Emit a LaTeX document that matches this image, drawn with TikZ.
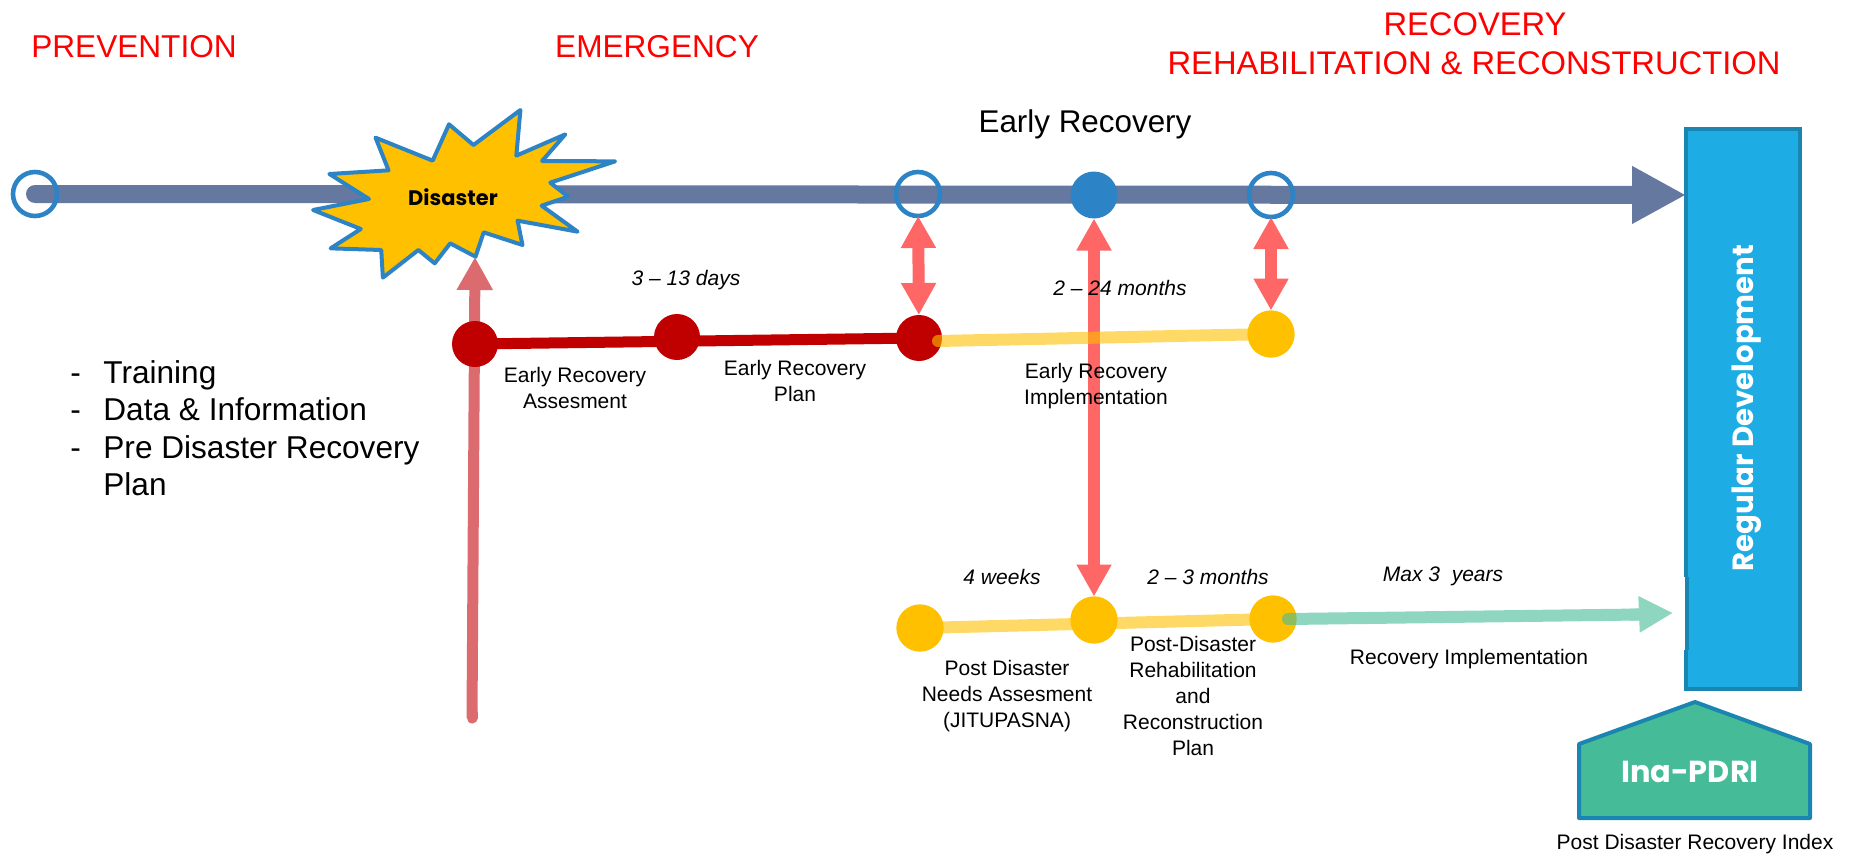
\documentclass[tikz,border=0pt]{standalone}
\usepackage{fontspec}
\setmainfont{Liberation Sans}
\newfontfamily\gothic{Poppins}
\usetikzlibrary{arrows.meta}
\definecolor{mainline}{HTML}{6478A0}
\definecolor{ringblue}{HTML}{2C84C6}
\definecolor{sunny}{HTML}{FFC000}
\definecolor{darkred}{HTML}{C00000}
\definecolor{pinkarrow}{HTML}{FF6666}
\definecolor{dustyred}{HTML}{DB6B6E}
\definecolor{boxfill}{HTML}{1EACE4}
\definecolor{boxline}{HTML}{1A85B0}
\definecolor{housefill}{HTML}{45BB98}
\tikzset{
  ringnode/.style={circle,draw=ringblue,line width=2.3pt,inner sep=0pt,outer sep=0pt,minimum size=22pt},
  solidblue/.style={circle,fill=ringblue,inner sep=0pt,outer sep=0pt,minimum size=23.5pt},
  rednode/.style={circle,fill=darkred,inner sep=0pt,outer sep=0pt,minimum size=23pt},
  yellownode/.style={circle,fill=sunny,inner sep=0pt,outer sep=0pt,minimum size=23.5pt},
  heading/.style={text=red,font=\fontsize{15.8}{19}\selectfont,align=center,inner sep=0pt},
  headingwide/.style={text=red,font=\fontsize{16.35}{19}\selectfont,align=center,inner sep=0pt},
  small/.style={font=\fontsize{10.5}{13}\selectfont,align=center,inner sep=0pt},
  smallit/.style={font=\fontsize{10.5}{13}\selectfont\itshape,align=center,inner sep=0pt},
  listtext/.style={font=\fontsize{15.8}{18.7}\selectfont,align=left,anchor=base west,inner sep=0pt},
  pinkdouble/.style={pinkarrow,line width=6pt,{Triangle[width=16.5pt,length=16pt]}-{Triangle[width=16.5pt,length=16pt]}},
}
\begin{document}
\begin{tikzpicture}[x=0.5pt,y=-0.5pt]
\useasboundingbox (0,0) rectangle (1856,856);
% boxes
\node[draw=boxline,fill=boxfill,line width=2pt,inner sep=0pt,outer sep=0pt,minimum width=57pt,minimum height=280pt] (devbox) at (1743,409) {};
\fill[white] (1683,577) rectangle (1685,650);
\fill[boxline] (1685,577) rectangle (1689,650);
\node[rotate=90,text=white,inner sep=0pt,font=\gothic\bfseries\fontsize{14.6}{17}\selectfont] (devtext) at (1747,408) {Regular Development};
% coordinates
\coordinate (mainstart) at (35,194);
\coordinate (mainend) at (1686,195);
\coordinate (burstbottom) at (475,257);
\coordinate (leftfoot) at (472,718);
\coordinate (greentip) at (1673,613);
% main line
\draw[mainline,line width=9pt,-{Triangle[width=27pt,length=27pt]}] (mainstart) -- (mainend);
\draw[mainline,line width=9pt,line cap=round] (mainstart) -- ++(5,0);
% left arrow
\draw[dustyred,line width=5.5pt,-{Triangle[width=17pt,length=16.5pt]}] (leftfoot) -- (burstbottom);
\draw[dustyred,line width=5.5pt,line cap=round] (leftfoot) -- ++(0,-5);
% burst
\begin{scope}[x=0.20408pt,y=-0.16667pt,yshift=-45pt]
\draw[draw=ringblue,fill=sunny,line width=2pt,line join=round]
 (1275,60)--(1265,197)--(1385,133)--(1328,213)--(1507,214)--(1348,278)--(1392,320)--(1327,347)--(1415,425)--(1268,392)--(1280,465)--(1185,427)--(1165,500)--(1103,460)--(1065,520)--(1025,480)--(938,563)--(934,480)--(810,475)--(884,417)--(767,360)--(904,327)--(807,252)--(952,241)--(920,143)--(1060,212)--(1100,103)--(1160,165)--cycle;
\end{scope}
\node[inner sep=0pt,font=\gothic\bfseries\fontsize{10.5}{12}\selectfont] (disaster) at (453,197) {Disaster};
% nodes
\node[rednode] (r1) at (475,344) {};
\node[ringnode] (ring0) at (35,194) {};
\node[ringnode] (ring1) at (918,194) {};
\node[solidblue] (blue) at (1094,195) {};
\node[ringnode] (ring3) at (1271,195) {};
\node[rednode] (r2) at (677,337) {};
\node[rednode] (r3) at (919,338) {};
\node[yellownode] (y1) at (1271,334) {};
\node[yellownode] (b1) at (920,628) {};
\node[yellownode] (b2) at (1094,620) {};
\node[yellownode] (b3) at (1273,619) {};
% connectors
\draw[darkred,line width=5.5pt] (r1.center) -- (r3.center);
\draw[pinkdouble] (ring1) -- (r3);
\draw[pinkdouble] (ring3) -- (y1);
\draw[pinkdouble] (blue) -- (b2);
\draw[sunny,opacity=.6,line width=6pt,line cap=round] (r3.center) ++(19,3) -- (y1.center);
\draw[sunny,opacity=.6,line width=6pt] (b1.center) -- (b3.center);
\node[yellownode] at (b1) {};
\node[yellownode] at (b2) {};
\node[yellownode] at (b3) {};
\node[yellownode] at (y1) {};
\begin{scope}[transparency group,opacity=.6]
\draw[housefill,line width=6pt,line cap=round] (b3.center) ++(15,0) -- (1640,614.5);
\draw[housefill,line width=6pt,-{Triangle[width=17pt,length=17pt]}] (1630,614.7) -- (greentip);
\end{scope}
% house
\draw[draw=boxline,fill=housefill,line width=2pt,line join=round] (1579,818) -- (1579,744) -- (1695,702) -- (1810,744) -- (1810,818) -- cycle;
\node[text=white,inner sep=0pt,font=\gothic\bfseries\fontsize{15.2}{19}\selectfont] (ina) at (1690,772) {Ina-PDRI};
\node[small] (pdri) at (1695,844) {Post Disaster Recovery Index};
% headings
\node[heading] (h1) at (134,46.5) {PREVENTION};
\node[heading] (h2) at (657,46.5) {EMERGENCY};
\node[headingwide] (h3) at (1475,24) {RECOVERY};
\node[headingwide] (h4) at (1474,63) {REHABILITATION \& RECONSTRUCTION};
\node[inner sep=0pt,font=\fontsize{15.7}{19}\selectfont] (er) at (1085,124) {Early Recovery};
% labels
\node[smallit] (t1) at (686,280) {3 – 13 days};
\node[small] (t2) at (575,388) {Early Recovery\\Assesment};
\node[small] (t3) at (795,381) {Early Recovery\\Plan};
\node[smallit] (t4) at (1120,288) {2 – 24 months};
\node[small] (t5) at (1096,386) {Early Recovery\\Implementation};
\node[smallit] (t6) at (1002,577) {4 weeks};
\node[smallit] (t7) at (1208,577) {2 – 3 months};
\node[smallit] (t8) at (1443,576) {Max 3\ \ years};
\node[small] (t9) at (1469,659) {Recovery Implementation};
\node[small] (t10) at (1007,696) {Post Disaster\\Needs Assesment\\(JITUPASNA)};
\node[small] (t11) at (1193,696) {Post-Disaster\\Rehabilitation\\and\\Reconstruction\\Plan};
% list
\node[listtext] (d1) at (70,383) {-};
\node[listtext] (d2) at (70,420) {-};
\node[listtext] (d3) at (70,458) {-};
\node[listtext] (l1) at (103,383) {Training};
\node[listtext] (l2) at (103,420) {Data \& Information};
\node[listtext] (l3) at (103,458) {Pre Disaster Recovery};
\node[listtext] (l4) at (103,495) {Plan};
\end{tikzpicture}
\end{document}
